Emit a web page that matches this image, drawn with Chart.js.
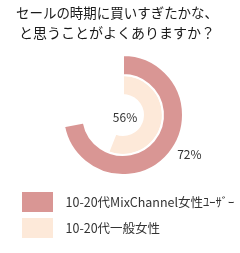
<!DOCTYPE html>
<html>
<head>
<meta charset="utf-8">
<script src="https://cdn.jsdelivr.net/npm/chart.js@4/dist/chart.umd.min.js"></script>
<style>
  html, body { margin: 0; padding: 0; background: #fff; }
  canvas { display: block; }
</style>
</head>
<body>
<canvas id="chart" width="240" height="253"></canvas>
<script>
// data
const titleLines = ['セールの時期に買いすぎたかな、', 'と思うことがよくありますか？'];
const seriesNames = ['10-20代MixChannel女性ﾕｰｻﾞｰ', '10-20代一般女性'];
const yesValues = [72, 56];
const seriesColors = ['#D99694', '#FDE9D9'];

const textColor = '#333333';
const fontFamily = '"Noto Sans CJK JP", "Noto Sans", sans-serif';

// draws the percent labels: outer ring outside, inner ring in the middle
const percentLabels = {
    id: 'percentLabels',
    afterDatasetsDraw(chart) {
        const ctx = chart.ctx;
        ctx.save();
        ctx.font = '12px ' + fontFamily;
        ctx.fillStyle = textColor;
        ctx.textAlign = 'center';
        ctx.textBaseline = 'middle';
        chart.data.datasets.forEach((ds, i) => {
            const arc = chart.getDatasetMeta(i).data[0];
            const text = yesValues[i] + '%';
            if (i === 0) {
                const mid = (arc.startAngle + arc.endAngle) / 2 - 0.16;
                const r = arc.outerRadius + 17;
                ctx.fillText(text, arc.x + Math.cos(mid) * r, arc.y + Math.sin(mid) * r);
            } else {
                ctx.fillText(text, arc.x + 2, arc.y + 2);
            }
        });
        ctx.restore();
    }
};

// empty box on the left so the doughnut sits right of the title centre,
// and let the long legend label run to the canvas edge instead of being clipped
const shiftLayout = {
    id: 'shiftLayout',
    beforeInit(chart) {
        Chart.layouts.addBox(chart, {
            position: 'left',
            weight: 0,
            fullSize: false,
            options: {},
            isHorizontal() { return false; },
            update(maxWidth, maxHeight) { this.width = 12; this.height = maxHeight; },
            draw() {}
        });
    },
    afterLayout(chart) {
        chart.legend.right = chart.width;
        chart.legend.width = chart.legend.right - chart.legend.left;
    }
};

const datasets = seriesNames.map((name, i) => ({
    label: name,
    data: [yesValues[i], 100 - yesValues[i]],
    backgroundColor: [seriesColors[i], 'rgba(0,0,0,0)'],
    borderColor: ['#ffffff', 'rgba(0,0,0,0)'],
    borderWidth: [2, 0],
    hoverOffset: 0
}));

new Chart(document.getElementById('chart'), {
    type: 'doughnut',
    data: {
        labels: ['はい', 'いいえ'],
        datasets: datasets
    },
    options: {
        responsive: false,
        animation: false,
        devicePixelRatio: 1,
        radius: 60,
        cutout: '33.3%',
        layout: { padding: { left: 16, right: 22, top: 0, bottom: 5 } },
        plugins: {
            title: {
                display: true,
                text: titleLines,
                color: '#1a1a1a',
                font: { family: fontFamily, size: 14, weight: 'normal', lineHeight: 1.43 },
                padding: { top: 3, bottom: 1 }
            },
            legend: {
                position: 'bottom',
                align: 'start',
                labels: {
                    boxWidth: 31,
                    boxHeight: 20,
                    padding: 6,
                    color: textColor,
                    font: { family: fontFamily, size: 12.5 },
                    generateLabels(chart) {
                        return chart.data.datasets.map((ds, i) => ({
                            text: '\u2002' + ds.label,
                            fillStyle: seriesColors[i],
                            strokeStyle: seriesColors[i],
                            lineWidth: 0,
                            fontColor: textColor,
                            datasetIndex: i
                        }));
                    }
                }
            },
            tooltip: { enabled: false }
        }
    },
    plugins: [shiftLayout, percentLabels]
});
</script>
</body>
</html>
